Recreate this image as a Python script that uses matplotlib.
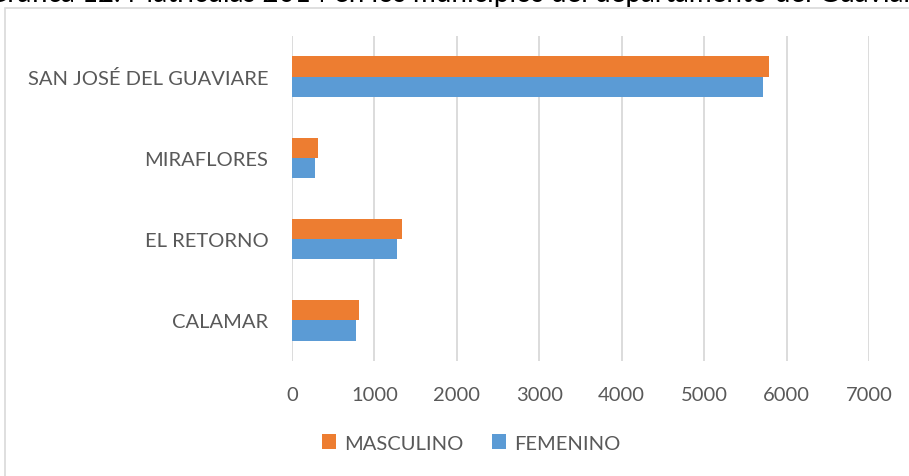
import numpy as np
import matplotlib.pyplot as plt
from matplotlib.patches import Rectangle

# Data
municipios = ['CALAMAR', 'EL RETORNO', 'MIRAFLORES', 'SAN JOSÉ DEL GUAVIARE']
masculino = [809, 1335, 316, 5785]
femenino = [773, 1274, 275, 5708]
x_ticks = [0, 1000, 2000, 3000, 4000, 5000, 6000, 7000]

orange = '#ED7D31'
blue = '#5B9BD5'
txt = '#595959'

plt.rcParams['font.family'] = ['Lato', 'DejaVu Sans']

fig = plt.figure(figsize=(9.09, 4.77), dpi=100)

# chart frame
fig.patches.append(Rectangle((5 / 909, -0.1), 1.0, 1.1 - 9 / 477, transform=fig.transFigure,
                             fill=False, edgecolor='#d9d9d9', linewidth=1.2))

# title, cut off at the top of the picture like in the source
fig.text(-0.014, 1.012, 'Gráfica 12. Matrículas 2014 en los municipios del departamento del Guaviare',
         fontsize=20, color='black', va='center', ha='left')

ax = fig.add_axes([292 / 909, 115 / 477, 577 / 909, 325 / 477])

y = np.arange(len(municipios))
h = 0.25
ax.barh(y + h / 2, masculino, height=h, color=orange, label='MASCULINO', zorder=3)
ax.barh(y - h / 2, femenino, height=h, color=blue, label='FEMENINO', zorder=3)

ax.set_xlim(0, 7000)
ax.set_ylim(-0.5, len(municipios) - 0.5)
ax.set_xticks(x_ticks)
ax.set_xticklabels([str(t) for t in x_ticks])
ax.set_yticks(y)
ax.set_yticklabels(municipios)
ax.tick_params(axis='both', length=0, labelsize=14.5, colors=txt)
ax.tick_params(axis='x', pad=18)
ax.tick_params(axis='y', pad=17)
ax.grid(axis='x', color='#d9d9d9', linewidth=1.3, zorder=0)
for s in ax.spines.values():
    s.set_visible(False)

leg = fig.legend(loc='center', bbox_to_anchor=(471 / 909, 1 - 444 / 477), ncol=2,
                 frameon=False, fontsize=14.5, handlelength=0.7, handleheight=0.7,
                 handletextpad=0.4, columnspacing=1.4)
for t in leg.get_texts():
    t.set_color(txt)

fig.savefig('out.png', dpi=100)
